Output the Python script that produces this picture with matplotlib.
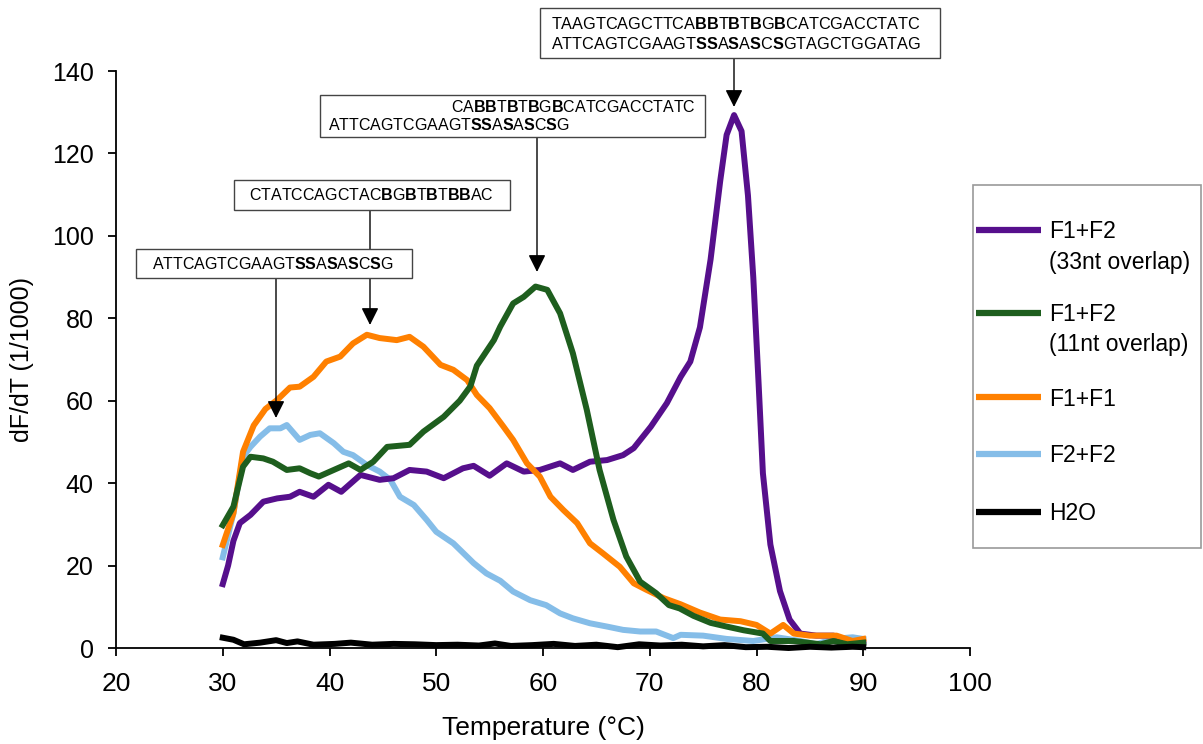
import matplotlib
matplotlib.use("Agg")
import matplotlib.pyplot as plt
from matplotlib.patches import Rectangle
from matplotlib.lines import Line2D
import re

plt.rcParams['font.family'] = ['Liberation Sans', 'DejaVu Sans']
plt.rcParams['mathtext.fontset'] = 'custom'
plt.rcParams['mathtext.rm'] = 'Liberation Sans'
plt.rcParams['mathtext.bf'] = 'Liberation Sans:bold'

# ---------------- data ----------------
purple_T = [30.0, 30.5, 31.0, 31.6, 32.6, 33.8, 35.1, 36.3, 37.2, 38.5, 39.9, 41.1, 42.9, 44.7, 46.0,
            47.5, 49.1, 50.7, 52.5, 53.5, 55.0, 56.6, 58.2, 59.7, 61.6, 62.8, 64.4, 66.0, 67.5, 68.5,
            70.1, 71.6, 72.9, 73.8, 74.7, 75.7, 76.6, 77.2, 77.9, 78.6, 79.2, 79.7, 80.2, 80.6, 81.3,
            82.2, 83.1, 84.1, 85.6, 87.2, 88.8, 90.0]
purple_v = [15.5, 20.0, 26.0, 30.3, 32.3, 35.5, 36.3, 36.7, 37.9, 36.7, 39.6, 37.9, 42.0, 40.8, 41.2,
            43.2, 42.8, 41.2, 43.6, 44.2, 41.8, 44.8, 42.8, 43.2, 44.8, 43.2, 45.2, 45.6, 46.8, 48.5,
            53.7, 59.4, 65.8, 69.5, 77.8, 94.3, 113.3, 124.5, 129.3, 125.4, 109.8, 89.9, 64.0, 42.4, 25.1,
            13.8, 6.9, 3.5, 3.0, 3.0, 1.3, 1.7]

green_T = [30.0, 31.0, 31.9, 32.6, 33.8, 34.7, 36.0, 37.2, 38.2, 39.0, 40.4, 41.8, 42.9, 44.1, 45.4,
           47.5, 48.8, 50.7, 52.2, 53.2, 53.8, 55.4, 56.0, 57.2, 58.2, 59.3, 60.4, 61.6, 62.8, 64.1,
           65.3, 66.6, 67.8, 69.1, 70.6, 71.8, 72.8, 74.1, 75.7, 77.2, 78.8, 80.6, 81.3, 83.5, 86.0,
           87.2, 88.5, 90.0]
green_v = [29.8, 34.3, 44.0, 46.4, 46.0, 45.2, 43.2, 43.6, 42.4, 41.6, 43.2, 44.8, 43.2, 45.2, 48.8,
           49.3, 52.5, 56.1, 60.0, 63.5, 68.5, 74.7, 78.0, 83.6, 85.2, 87.7, 86.9, 81.2, 71.5, 57.8,
           43.2, 31.1, 22.2, 16.1, 13.3, 10.4, 9.6, 7.8, 6.1, 5.2, 4.3, 3.5, 1.7, 1.7, 0.9,
           1.7, 0.9, 1.3]

orange_T = [30.0, 31.0, 31.9, 32.9, 34.0, 35.1, 36.3, 37.2, 38.5, 39.7, 41.0, 42.2, 43.5, 44.7, 46.3,
            47.5, 48.8, 50.4, 51.6, 52.9, 53.8, 55.0, 56.3, 57.2, 58.5, 59.7, 60.7, 61.9, 63.2, 64.4,
            65.6, 67.2, 68.5, 69.7, 71.3, 72.9, 74.7, 76.6, 78.5, 80.0, 81.3, 82.5, 83.5, 85.0, 87.5,
            89.0, 90.0]
orange_v = [25.0, 32.7, 47.6, 54.0, 58.0, 60.2, 63.2, 63.4, 65.8, 69.5, 70.7, 73.9, 76.0, 75.2, 74.7,
            75.5, 73.1, 68.7, 67.5, 65.0, 61.4, 58.2, 53.7, 50.5, 44.8, 41.6, 36.7, 33.5, 30.3, 25.4,
            23.0, 19.7, 15.7, 14.1, 12.1, 10.6, 8.6, 6.9, 6.5, 5.6, 3.5, 5.6, 3.5, 3.0, 3.0,
            1.7, 2.2]

blue_T = [30.0, 31.0, 31.9, 32.6, 33.5, 34.4, 35.4, 36.0, 37.2, 38.2, 39.1, 40.4, 41.3, 42.2, 43.5,
          44.7, 45.7, 46.6, 47.9, 49.1, 50.0, 51.6, 53.5, 54.7, 56.0, 57.2, 58.8, 60.3, 61.6, 62.8,
          64.4, 66.0, 67.5, 69.1, 70.6, 72.2, 72.9, 75.0, 77.2, 79.7, 81.9, 84.1, 85.6, 87.2, 89.0,
          90.0]
blue_v = [22.0, 32.7, 46.4, 48.8, 51.3, 53.3, 53.3, 54.1, 50.5, 51.7, 52.1, 49.7, 47.6, 46.8, 44.4,
          42.8, 40.8, 36.7, 34.7, 31.1, 28.2, 25.4, 20.6, 18.1, 16.3, 13.7, 11.6, 10.4, 8.4, 7.2,
          6.0, 5.2, 4.4, 4.0, 4.0, 2.4, 3.2, 3.0, 2.2, 1.7, 2.6, 1.7, 0.9, 2.2, 2.6,
          2.2]

black_T = [30.0, 31.0, 32.0, 33.5, 35.0, 36.0, 37.0, 38.5, 40.5, 42.0, 44.0, 46.0, 48.0, 50.0, 52.0,
           54.0, 55.5, 57.0, 59.0, 61.0, 63.0, 65.0, 67.0, 69.0, 71.0, 73.0, 75.0, 77.0, 79.0, 81.0,
           83.0, 85.0, 87.0, 89.0, 90.0]
black_v = [2.5, 2.0, 0.9, 1.3, 1.9, 1.2, 1.6, 0.8, 1.0, 1.3, 0.8, 1.0, 0.9, 0.7, 0.8,
           0.6, 1.1, 0.5, 0.7, 1.0, 0.5, 0.8, 0.2, 0.9, 0.6, 0.8, 0.4, 0.7, 0.2, 0.3,
           0.0, 0.3, 0.1, 0.3, 0.2]

labels = ["F1+F2\n(33nt overlap)", "F1+F2\n(11nt overlap)", "F1+F1", "F2+F2", "H2O"]
colors = ["#560F8C", "#1E5E1E", "#FF8000", "#85BDE8", "#000000"]

x_ticks = [20, 30, 40, 50, 60, 70, 80, 90, 100]
y_ticks = [0, 20, 40, 60, 80, 100, 120, 140]

# annotation sequences: [..] marks bold
seq1a = "TAAGTCAGCTTCA[BB]T[B]T[B]G[B]CATCGACCTATC"
seq1b = "ATTCAGTCGAAGT[SS]A[S]A[S]C[S]GTAGCTGGATAG"
seq2a = "CA[BB]T[B]T[B]G[B]CATCGACCTATC"
seq2b = "ATTCAGTCGAAGT[SS]A[S]A[S]C[S]G"
seq3 = "CTATCCAGCTAC[B]G[B]T[B]T[BB]AC"
seq4 = "ATTCAGTCGAAGT[SS]A[S]A[S]C[S]G"


def to_math(s):
    parts = re.split(r"(\[[^\]]*\])", s)
    out = ""
    for p in parts:
        if not p:
            continue
        if p.startswith("["):
            out += r"\mathbf{" + p[1:-1] + "}"
        else:
            out += r"\mathrm{" + p + "}"
    return "$" + out + "$"


W, H = 1203, 744
fig = plt.figure(figsize=(W / 100, H / 100), dpi=100)
ax = fig.add_axes([116 / W, 1 - 648 / H, (970 - 116) / W, (648 - 71) / H])

series = [(blue_T, blue_v, colors[3], 1),
          (purple_T, purple_v, colors[0], 2),
          (orange_T, orange_v, colors[2], 3),
          (green_T, green_v, colors[1], 4),
          (black_T, black_v, colors[4], 5)]
for T, v, c, z in series:
    ax.plot(T, v, color=c, lw=4.3, zorder=z, clip_on=False, solid_joinstyle='round')

ax.set_xlim(20, 100)
ax.set_ylim(0, 140)
ax.set_xticks(x_ticks)
ax.set_yticks(y_ticks)
for s in ['top', 'right']:
    ax.spines[s].set_visible(False)
for s in ['left', 'bottom']:
    ax.spines[s].set_linewidth(1.3)
ax.tick_params(direction='out', length=6, width=1.3, pad=10)
ax.tick_params(axis='x', labelsize=19, pad=11)
ax.tick_params(axis='y', labelsize=18)
ax.set_xlabel("Temperature (°C)", fontsize=19, labelpad=15)
ax.set_ylabel("dF/dT (1/1000)", fontsize=18, labelpad=13)


def px2d(px, py):
    return 20 + (px - 116) / 10.675, (648 - py) / 4.121


def box(x0, y0, x1, y1):
    a = px2d(x0, y1)
    b = px2d(x1, y0)
    r = Rectangle(a, b[0] - a[0], b[1] - a[1], fill=True, facecolor='white',
                  edgecolor='#444444', lw=1.0, clip_on=False, zorder=6)
    ax.add_patch(r)


def arrow(px, py0, py1):
    s = px2d(px, py0)
    t = px2d(px, py1)
    ax.annotate('', xy=t, xytext=s,
                arrowprops=dict(arrowstyle='-|>,head_length=1.0,head_width=0.5',
                                mutation_scale=10.5, color='black', lw=1.0,
                                shrinkA=0, shrinkB=0),
                annotation_clip=False, zorder=5.5)


def seqtext(px, py, s, ha='left', fs=11.5):
    x, y = px2d(px, py)
    ax.text(x, y, to_math(s), fontsize=fs, ha=ha, va='center', zorder=8, clip_on=False)


# box 1
box(540, 8, 940, 58)
seqtext(551, 24, seq1a, fs=11.7)
seqtext(551, 44, seq1b, fs=11.7)
arrow(734, 58, 107)
# box 2
box(320, 95, 705, 137)
seqtext(451, 107, seq2a)
seqtext(328, 125, seq2b)
arrow(537, 137, 272)
# box 3
box(234, 180, 510, 210)
seqtext(371, 195, seq3, ha='center')
arrow(370, 210, 325)
# box 4
box(136, 249, 412, 278)
seqtext(273, 264, seq4, ha='center')
arrow(276, 278, 418)

# legend (manual, handle aligned with first label line)
def fx(px):
    return px / W


def fy(py):
    return 1 - py / H


fig.add_artist(Rectangle((fx(973), fy(548)), fx(1201) - fx(973), fy(185) - fy(548),
                         transform=fig.transFigure, fill=False, edgecolor='#999999', lw=1.2))
handle_y = [230, 313, 397, 454, 512]
for lab, c, hy in zip(labels, colors, handle_y):
    fig.add_artist(Line2D([fx(976), fx(1041)], [fy(hy), fy(hy)], color=c, lw=4.5,
                          transform=fig.transFigure, solid_capstyle='butt'))
    lines = lab.split("\n")
    for i, ln in enumerate(lines):
        fig.text(fx(1049), fy(hy + 2 + i * 30), ln, fontsize=16.5, ha='left', va='center')

fig.savefig("out.png", dpi=100)
